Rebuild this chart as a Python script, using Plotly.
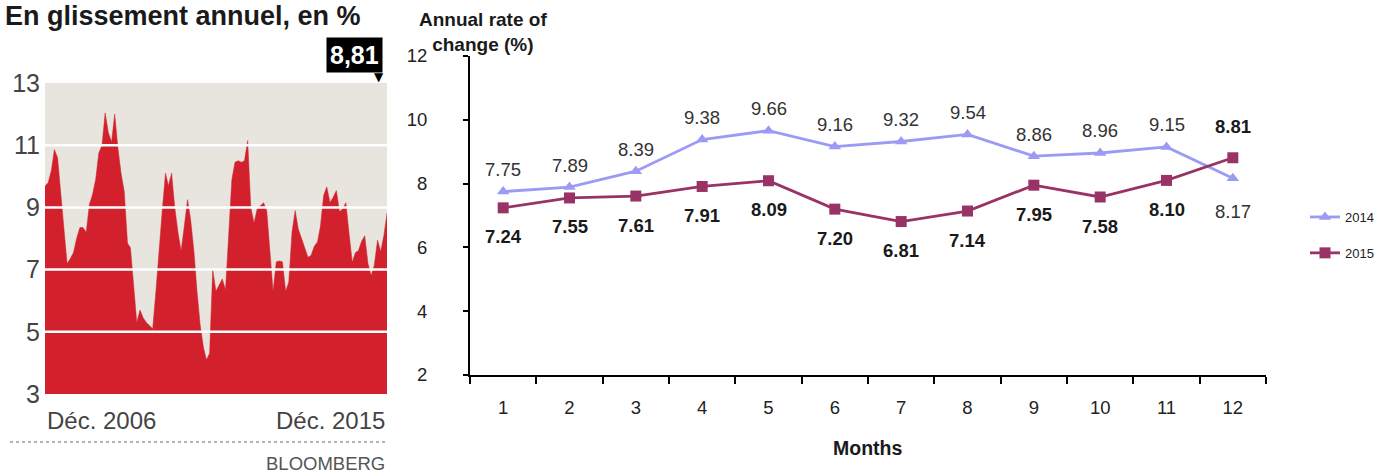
import pandas as pd
import plotly.graph_objects as go

# ---------------- data ----------------
# Left panel: monthly annual inflation, Dec 2006 .. Dec 2013
hist_2006_2013 = [9.68, 9.8, 10.2, 10.86, 10.6, 9.5, 8.4, 7.2, 7.35, 7.55,
                  8.0, 8.35, 8.35, 8.2, 9.1, 9.4, 9.9, 10.75, 11.0, 12.04,
                  11.4, 11.1, 12.0, 10.9, 10.1, 9.5, 7.85, 7.7, 6.5, 5.3,
                  5.7, 5.45, 5.3, 5.2, 5.1, 6.3, 7.7, 8.9, 10.1, 9.7,
                  10.1, 9.0, 8.2, 7.6, 8.4, 9.25, 8.6, 7.6, 6.3, 5.2,
                  4.5, 4.1, 4.3, 7.0, 6.3, 6.5, 6.7, 6.35, 8.2, 9.9,
                  10.45, 10.5, 10.45, 10.5, 11.15, 9.0, 8.5, 8.95, 9.05, 9.15,
                  8.9, 7.5, 6.3, 7.25, 7.28, 7.25, 6.3, 6.6, 8.2, 8.9,
                  8.3, 8.0, 7.7, 7.4, 7.45]
# Right panel
months = ["1", "2", "3", "4", "5", "6", "7", "8", "9", "10", "11", "12"]
rate_2014 = [7.75, 7.89, 8.39, 9.38, 9.66, 9.16, 9.32, 9.54, 8.86, 8.96, 9.15, 8.17]
rate_2015 = [7.24, 7.55, 7.61, 7.91, 8.09, 7.20, 6.81, 7.14, 7.95, 7.58, 8.10, 8.81]
left_ticks = [3, 5, 7, 9, 11, 13]
right_ticks = [2, 4, 6, 8, 10, 12]

left_values = hist_2006_2013 + rate_2014 + rate_2015
left_dates = pd.date_range("2006-12-01", periods=len(left_values), freq="MS")

W, H = 1379, 474
def px(x):
    return x / W
def py(y):
    return 1 - y / H

RED = "#d3202d"
LEFT_BG = "#e7e5de"
FONT = "Liberation Sans, Arial"
C14 = "#9b9bf5"
C15 = "#993366"

fig = go.Figure()

# left area
fig.add_trace(go.Scatter(x=left_dates, y=left_values, mode="lines", fill="tozeroy",
                         fillcolor=RED, line=dict(color=RED, width=0.5),
                         xaxis="x", yaxis="y", showlegend=False, hoverinfo="skip"))

# right lines
fig.add_trace(go.Scatter(x=months, y=rate_2014, mode="lines+markers", name="2014",
                         line=dict(color=C14, width=2.8),
                         marker=dict(symbol="triangle-up", size=11, color=C14),
                         xaxis="x2", yaxis="y2", legendgroup="a"))
fig.add_trace(go.Scatter(x=months, y=rate_2015, mode="lines+markers", name="2015",
                         line=dict(color=C15, width=2.8),
                         marker=dict(symbol="square", size=11, color=C15),
                         xaxis="x2", yaxis="y2", legendgroup="b"))

annotations = []
# data labels (x given as category index)
for i, m in enumerate(months):
    up14 = rate_2014[i] >= rate_2015[i]
    annotations.append(dict(x=i, y=rate_2014[i], xref="x2", yref="y2", text=f"{rate_2014[i]:.2f}",
                            showarrow=False, yshift=22 if up14 else -33,
                            font=dict(family=FONT, size=18.5, color="#333333")))
    annotations.append(dict(x=i, y=rate_2015[i], xref="x2", yref="y2", text=f"<b>{rate_2015[i]:.2f}</b>",
                            showarrow=False, yshift=-29 if up14 else 31,
                            font=dict(family=FONT, size=18.5, color="#1a1a1a")))

# right axis titles
annotations.append(dict(x=px(483), y=py(31.5), xref="paper", yref="paper", yanchor="middle",
                        text="<b>Annual rate of<br>change (%)</b>", showarrow=False,
                        font=dict(family=FONT, size=19, color="#1a1a1a"), align="center"))
annotations.append(dict(x=px(867), y=py(448), xref="paper", yref="paper", yanchor="middle",
                        text="<b>Months</b>", showarrow=False,
                        font=dict(family=FONT, size=19.5, color="#1a1a1a")))

# left panel texts
annotations.append(dict(x=px(3), y=py(16), xref="paper", yref="paper", xanchor="left",
                        yanchor="middle",
                        text="<b>En glissement annuel, en %</b>", showarrow=False,
                        font=dict(family=FONT, size=27, color="#1a1a1a")))
annotations.append(dict(x=left_dates[0], y=py(420), xref="x", yref="paper", xanchor="left",
                        yanchor="middle", text="Déc. 2006", showarrow=False,
                        font=dict(family=FONT, size=24, color="#444444")))
annotations.append(dict(x=left_dates[-1], y=py(420), xref="x", yref="paper", xanchor="right",
                        yanchor="middle", text="Déc. 2015", showarrow=False,
                        font=dict(family=FONT, size=24, color="#444444")))
annotations.append(dict(x=px(387), y=py(463), xref="paper", yref="paper", xanchor="right",
                        yanchor="middle", text="BLOOMBERG", showarrow=False,
                        font=dict(family=FONT, size=18.5, color="#555555")))
# last value flag
annotations.append(dict(x=left_dates[-1], y=py(73), xref="x", yref="paper", xanchor="right",
                        yanchor="bottom", xshift=-4,
                        text=f"<b>{str(left_values[-1]).replace('.', ',')}</b>",
                        showarrow=False, bgcolor="#000000", borderpad=3,
                        font=dict(family=FONT, size=25, color="#ffffff")))
annotations.append(dict(x=px(379), y=py(77), xref="paper", yref="paper", xanchor="center",
                        yanchor="middle", text="▼", showarrow=False,
                        font=dict(family="DejaVu Sans", size=12, color="#000000")))

shapes = []
for v in left_ticks[1:-1]:
    shapes.append(dict(type="line", xref="x domain", yref="y", x0=0, x1=1, y0=v, y1=v,
                       line=dict(color="#ffffff", width=2.5), layer="above"))
shapes.append(dict(type="line", xref="paper", yref="paper", x0=px(10), x1=px(387),
                   y0=py(442), y1=py(442), line=dict(color="#999999", width=1.5, dash="dot")))

fig.update_layout(
    width=W, height=H,
    margin=dict(l=0, r=0, t=0, b=0, autoexpand=False),
    paper_bgcolor="#ffffff", plot_bgcolor="#ffffff",
    showlegend=True,
    legend=dict(x=px(1305), y=py(202), xanchor="left", yanchor="top",
                traceorder="grouped", tracegroupgap=16,
                font=dict(family=FONT, size=13, color="#222222"),
                itemwidth=30, bgcolor="rgba(0,0,0,0)"),
    xaxis=dict(domain=[px(45), px(387)], range=[left_dates[0], left_dates[-1]], automargin=False,
               showgrid=False, showticklabels=False, ticks="", zeroline=False, showline=False),
    yaxis=dict(domain=[py(394), py(83)], range=[3, 13], tickvals=left_ticks, automargin=False,
               showgrid=False, zeroline=False, showline=False, ticks="",
               ticklabelstandoff=4,
               tickfont=dict(family=FONT, size=25, color="#444444")),
    xaxis2=dict(domain=[px(470), px(1266)], type="category", anchor="y2", automargin=False,
                range=[-0.5, 11.5],
                tickson="boundaries", ticks="outside", ticklen=7, tickwidth=1.5, tickcolor="#000",
                showline=True, linecolor="#000", linewidth=2, showgrid=False,
                ticklabelstandoff=15,
                tickfont=dict(family=FONT, size=18.5, color="#222222")),
    yaxis2=dict(domain=[py(375), py(56)], range=[2, 12], tickvals=right_ticks, anchor="x2",
                automargin=False,
                ticks="outside", ticklen=5, tickwidth=1.5, tickcolor="#000",
                showline=True, linecolor="#000", linewidth=2, showgrid=False, zeroline=False,
                ticklabelstandoff=32,
                tickfont=dict(family=FONT, size=18.5, color="#222222")),
    annotations=annotations,
    shapes=shapes,
)
fig.add_shape(type="rect", xref="x domain", yref="y domain", x0=0, x1=1, y0=0, y1=1,
              fillcolor=LEFT_BG, line=dict(width=0), layer="below")

fig.write_html("out.html", config={"displayModeBar": False},
               post_script="document.body.style.margin='0';")
